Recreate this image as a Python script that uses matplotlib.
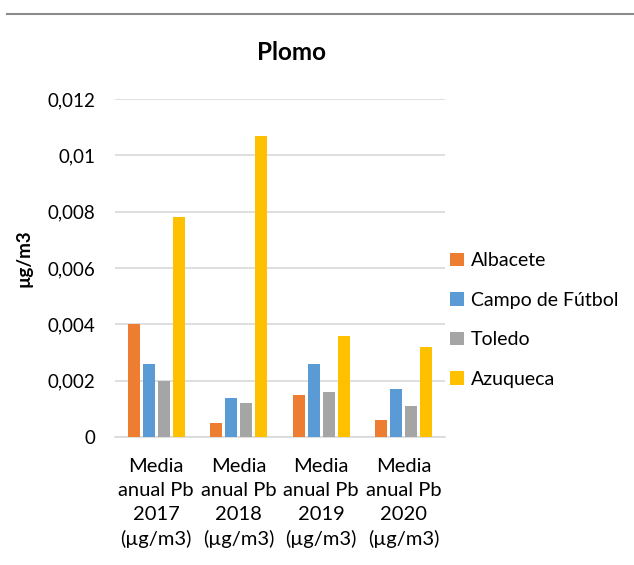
import numpy as np
import matplotlib
matplotlib.use("Agg")
import matplotlib.pyplot as plt
from matplotlib.ticker import FuncFormatter, MultipleLocator
from matplotlib.lines import Line2D

# Data
categories = [
    "Media\nanual Pb\n2017\n(µg/m3)",
    "Media\nanual Pb\n2018\n(µg/m3)",
    "Media\nanual Pb\n2019\n(µg/m3)",
    "Media\nanual Pb\n2020\n(µg/m3)",
]
series_names = ["Albacete", "Campo de Fútbol", "Toledo", "Azuqueca"]
albacete = [0.0040, 0.0005, 0.0015, 0.0006]
campo_futbol = [0.0026, 0.0014, 0.0026, 0.0017]
toledo = [0.0020, 0.0012, 0.0016, 0.0011]
azuqueca = [0.0078, 0.0107, 0.0036, 0.0032]
colors = ["#ED7D31", "#5B9BD5", "#A5A5A5", "#FFC000"]

plt.rcParams["font.family"] = ["Lato", "DejaVu Sans"]

fig = plt.figure(figsize=(6.34, 5.65), dpi=100)
ax = fig.add_axes([0.1814, 0.2265, 0.5205, 0.5983])

x = np.arange(len(categories))
pitch = 0.182
width = 0.145
all_series = [albacete, campo_futbol, toledo, azuqueca]
for i, (name, vals, col) in enumerate(zip(series_names, all_series, colors)):
    offset = (i - 1.5) * pitch
    ax.bar(x + offset, vals, width=width, color=col, label=name, zorder=3)

ax.set_xlim(-0.5, len(categories) - 0.5)
ax.set_ylim(0, 0.012)
ax.yaxis.set_major_locator(MultipleLocator(0.002))
ax.yaxis.set_major_formatter(FuncFormatter(lambda v, p: f"{v:g}".replace(".", ",")))
ax.grid(axis="y", color="#D9D9D9", linewidth=1.2, zorder=0)
for s in ["top", "right", "left"]:
    ax.spines[s].set_visible(False)
ax.spines["bottom"].set_color("#D9D9D9")
ax.spines["bottom"].set_linewidth(1.2)
ax.tick_params(axis="both", length=0, colors="#000000")
ax.tick_params(axis="y", pad=14, labelsize=13.5)
ax.tick_params(axis="x", pad=15, labelsize=14.5)
ax.set_xticks(x)
ax.set_xticklabels(categories, linespacing=1.5)

ax.set_ylabel("µg/m3", fontsize=13.5, fontweight="bold")
ax.yaxis.set_label_coords(-0.25, 0.53)

fig.text(0.46, 1 - 52 / 565, "Plomo", ha="center", va="center", fontsize=17.5, fontweight="bold")

ax.legend(loc="center left", bbox_to_anchor=(0.698, 1 - 320 / 565), bbox_transform=fig.transFigure,
          frameon=False, fontsize=14, handlelength=0.7, handleheight=0.7,
          handletextpad=0.35, labelspacing=1.15, borderaxespad=0)

fig.add_artist(Line2D([7 / 634, 1.0], [1 - 14 / 565, 1 - 14 / 565],
                      transform=fig.transFigure, color="#8C8C8C", linewidth=1.5))

fig.savefig("out.png", dpi=100, facecolor="white")
